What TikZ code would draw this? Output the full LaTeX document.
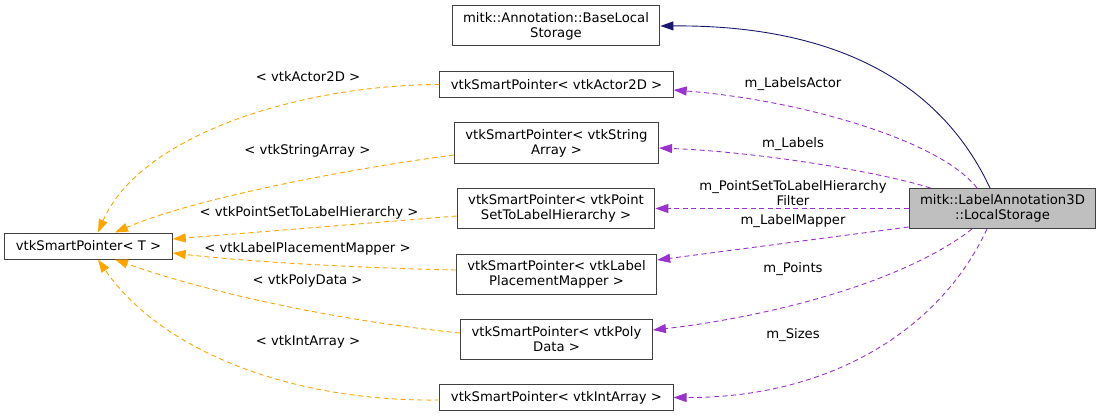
\documentclass[tikz,border=0pt]{standalone}
\usepackage{fontspec}
\setmainfont{DejaVu Sans}
\usetikzlibrary{arrows.meta}
\definecolor{edgeorange}{HTML}{FFA500}
\definecolor{edgepurple}{HTML}{9A32CD}
\definecolor{edgenavy}{HTML}{191970}
\definecolor{boxline}{HTML}{404040}
\definecolor{boxgray}{HTML}{BFBFBF}
\begin{document}
\begin{tikzpicture}[x=1pt,y=-1pt,
    font=\fontsize{13.2}{15}\selectfont,
    cls/.style={draw=boxline,line width=1pt,fill=white,align=center,inner xsep=11pt,inner ysep=0pt,minimum height=26pt},
    cls2/.style={cls,minimum height=40pt},
    usage/.style={edgepurple,dash pattern=on 5pt off 3.5pt,line width=0.9pt,-{Triangle[length=13pt,width=9pt]}},
    tmpl/.style={edgeorange,dash pattern=on 5pt off 3.5pt,line width=0.9pt,-{Triangle[length=13pt,width=9pt]}},
    inh/.style={edgenavy,line width=0.9pt,-{Triangle[length=13pt,width=9pt]}},
    lbl/.style={inner sep=0pt,align=center}]
   \useasboundingbox (0,0) rectangle (1100,417);
   % classes
   \node[cls2] (base) at (556,26) {mitk::Annotation::BaseLocal\\Storage};
   \node[cls] (actor) at (556.5,84.5) {vtkSmartPointer< vtkActor2D >};
   \node[cls2] (strarr) at (556.5,143) {vtkSmartPointer< vtkString\\Array >};
   \node[cls2] (hier) at (556,208.5) {vtkSmartPointer< vtkPoint\\SetToLabelHierarchy >};
   \node[cls2] (mapper) at (556.5,274) {vtkSmartPointer< vtkLabel\\PlacementMapper >};
   \node[cls2] (poly) at (556.5,339) {vtkSmartPointer< vtkPoly\\Data >};
   \node[cls] (intarr) at (556.5,397.5) {vtkSmartPointer< vtkIntArray >};
   \node[cls] (tptr) at (88.5,246) {vtkSmartPointer< T >};
   \node[cls2,fill=boxgray] (local) at (1002.5,208.5) {mitk::LabelAnnotation3D\\::LocalStorage};
   % inheritance
   \draw[inh] ([xshift=-12.5pt]local.north) .. controls (930,60) and (800,25) .. (base.east);
   % members
   \draw[usage] ([xshift=-25.5pt]local.north) .. controls (940,140) and (800,100) .. ([yshift=-5.5pt]actor.east);
   \draw[usage] ([xshift=22pt]local.north west) .. controls (880,172) and (760,152) .. ([yshift=-5pt]strarr.east);
   \draw[usage] (local.west) -- (hier.east);
   \draw[usage] ([yshift=2pt]local.south west) -- ([yshift=14pt]mapper.east);
   \draw[usage] ([xshift=-30.5pt]local.south) .. controls (900,285) and (760,318) .. ([yshift=9pt]poly.east);
   \draw[usage] ([xshift=-15.5pt]local.south) .. controls (940,330) and (830,398) .. (intarr.east);
   \node[lbl] (lactor) at (793,84) {m\_LabelsActor};
   \node[lbl] (llabels) at (793,144) {m\_Labels};
   \node[lbl] (lhier) at (793,193) {m\_PointSetToLabelHierarchy\\Filter};
   \node[lbl] (lmapper) at (793,221) {m\_LabelMapper};
   \node[lbl] (lpoints) at (793,269) {m\_Points};
   \node[lbl] (lsizes) at (793,335) {m\_Sizes};
   % template instances
   \draw[tmpl] (actor.west) .. controls (300,85) and (140,135) .. ([xshift=9.5pt]tptr.north);
   \draw[tmpl] ([yshift=-12pt]strarr.west) .. controls (340,170) and (190,200) .. ([xshift=26.5pt]tptr.north);
   \draw[tmpl] ([yshift=-7.5pt]hier.west) -- ([yshift=7pt]tptr.east);
   \draw[tmpl] ([yshift=4pt]mapper.west) .. controls (360,268) and (250,262) .. ([yshift=-7pt]tptr.east);
   \draw[tmpl] ([yshift=6pt]poly.west) .. controls (330,320) and (200,290) .. ([xshift=26.5pt]tptr.south);
   \draw[tmpl] ([yshift=-2.5pt]intarr.west) .. controls (290,402) and (160,350) .. ([xshift=9.5pt]tptr.south);
   \node[lbl] (tactor) at (308,77) {< vtkActor2D >};
   \node[lbl] (tstrarr) at (307.5,151) {< vtkStringArray >};
   \node[lbl] (thier) at (309,213) {< vtkPointSetToLabelHierarchy >};
   \node[lbl] (tmapper) at (307.5,249) {< vtkLabelPlacementMapper >};
   \node[lbl] (tpoly) at (307.5,281) {< vtkPolyData >};
   \node[lbl] (tintarr) at (308,342) {< vtkIntArray >};
\end{tikzpicture}
\end{document}
